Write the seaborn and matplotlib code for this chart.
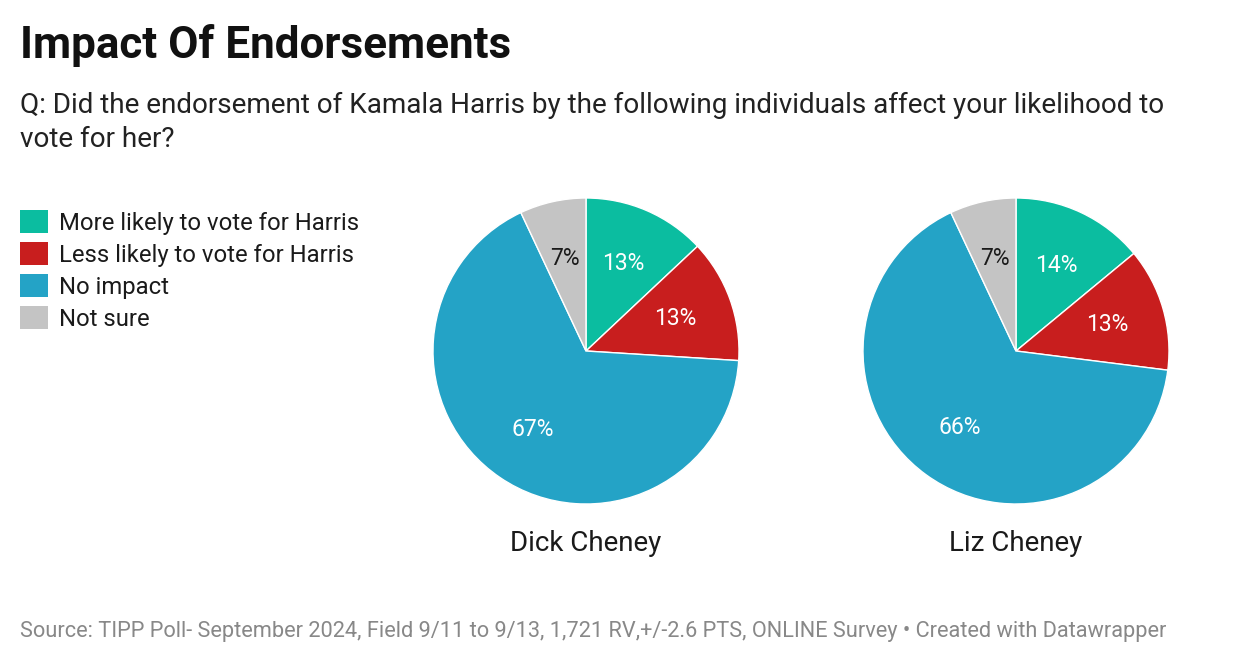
import seaborn as sns
import matplotlib.pyplot as plt
from matplotlib.patches import Patch

# Data
categories = ["More likely to vote for Harris", "Less likely to vote for Harris",
              "No impact", "Not sure"]
people = ["Dick Cheney", "Liz Cheney"]
dick_values = [13, 13, 67, 7]
liz_values = [14, 13, 66, 7]
colors = ["#0bbda0", "#c81e1e", "#24a3c6", "#c4c4c4"]
label_colors = ["white", "white", "white", "#1a1a1a"]

sns.set_theme(style="white")
plt.rcParams['font.family'] = ['Roboto', 'DejaVu Sans']

W, H = 1240, 664
fig = plt.figure(figsize=(W / 100, H / 100), dpi=100)
fig.patch.set_facecolor("white")

# Title and subtitle
fig.text(20 / W, 1 - 58 / H, "Impact Of Endorsements", fontsize=31.7, fontweight="bold",
         color="#111111", va="baseline", ha="left")
fig.text(20 / W, 1 - 113 / H,
         "Q: Did the endorsement of Kamala Harris by the following individuals affect your likelihood to",
         fontsize=20.1, color="#222222", va="baseline", ha="left")
fig.text(20 / W, 1 - 147 / H, "vote for her?", fontsize=20.1, color="#222222",
         va="baseline", ha="left")

# Pies
r = 153
centers = [586, 1016]
for name, vals, cx in zip(people, [dick_values, liz_values], centers):
    ax = fig.add_axes([(cx - r) / W, (H - 351 - r) / H, 2 * r / W, 2 * r / H])
    wedges, texts = ax.pie(vals, colors=colors, startangle=90, counterclock=False,
                           labels=[f"{v}%" for v in vals], labeldistance=0.62,
                           wedgeprops=dict(edgecolor="white", linewidth=1))
    for t, c in zip(texts, label_colors):
        t.set_color(c)
        t.set_fontsize(16.5)
        t.set_ha("center")
        t.set_va("center")
    ax.set_xlim(-1, 1)
    ax.set_ylim(-1, 1)
    ax.set_aspect("equal")
    ax.axis("off")
    fig.text(cx / W, 1 - 551 / H, name, fontsize=20, color="#1a1a1a",
             ha="center", va="baseline")

# Legend
handles = [Patch(facecolor=c, edgecolor="none") for c in colors]
fig.legend(handles, categories, loc="upper left", bbox_to_anchor=(20 / W, 1 - 210 / H),
           frameon=False, fontsize=17.2, handlelength=1.17, handleheight=1.13,
           handletextpad=0.46, labelspacing=0.3, borderpad=0, borderaxespad=0,
           labelcolor="#1a1a1a")

# Source
fig.text(20 / W, 1 - 637 / H,
         "Source: TIPP Poll- September 2024, Field 9/11 to 9/13, 1,721 RV,+/-2.6 PTS, ONLINE Survey \u2022 Created with Datawrapper",
         fontsize=15.7, color="#888888", va="baseline", ha="left")

fig.savefig("out.png", dpi=100, facecolor="white")
